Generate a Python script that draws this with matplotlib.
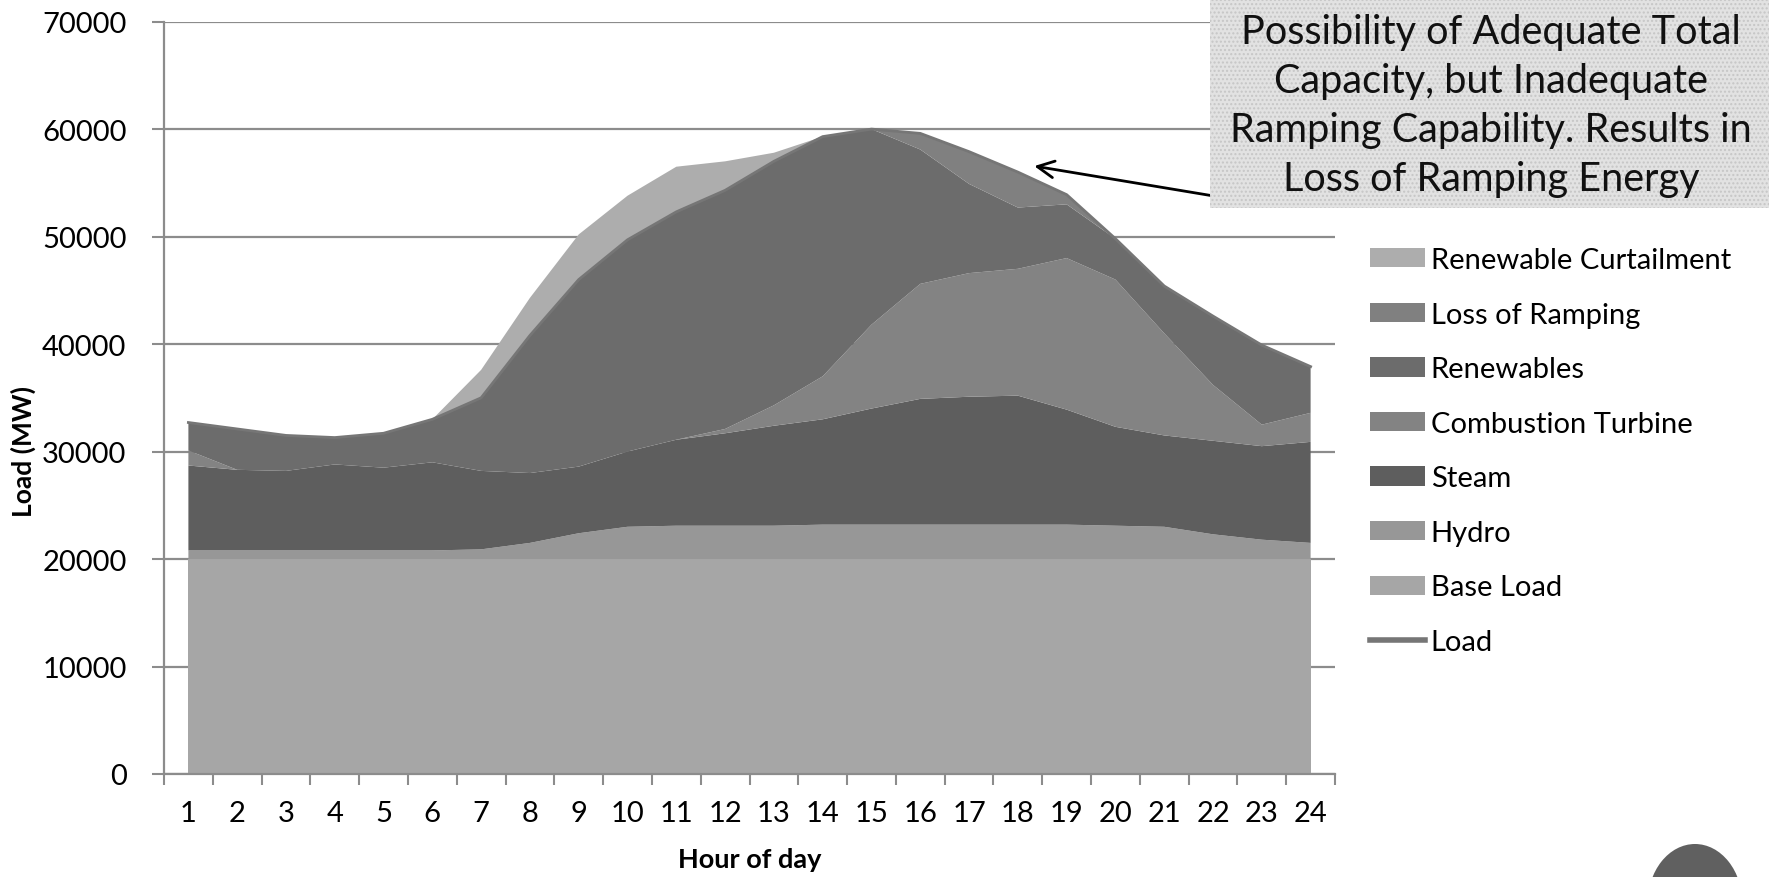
import numpy as np
import matplotlib
matplotlib.use("Agg")
import matplotlib.pyplot as plt
from matplotlib.patches import Patch, Rectangle, Ellipse
from matplotlib.lines import Line2D

plt.rcParams['font.family'] = ['Lato', 'DejaVu Sans']

hours = list(range(1, 25))
base_load = [20000] * 24
hydro = [800, 800, 800, 800, 800, 800, 900, 1500, 2400, 3000, 3100, 3100,
         3100, 3200, 3200, 3200, 3200, 3200, 3200, 3100, 3000, 2300, 1800, 1500]
steam = [7900, 7500, 7400, 8000, 7700, 8200, 7300, 6500, 6200, 7000, 8000, 8600,
         9300, 9800, 10800, 11700, 11900, 12000, 10700, 9200, 8500, 8700, 8700, 9400]
combustion_turbine = [1400, 0, 0, 0, 0, 0, 0, 0, 0, 0, 0, 400,
                      1900, 4000, 7800, 10700, 11500, 11800, 14100, 13700, 9500, 5200, 2000, 2700]
renewables = [2600, 3800, 3300, 2500, 3200, 4000, 6800, 12800, 17400, 19700, 21200, 22200,
              22700, 22300, 18200, 12500, 8300, 5700, 5000, 3800, 4400, 6400, 7400, 4300]
loss_of_ramping = [0, 0, 0, 0, 0, 0, 0, 0, 0, 0, 0, 0,
                   0, 0, 0, 1500, 3000, 3300, 900, 0, 0, 0, 0, 0]
renewable_curtailment = [0, 0, 0, 0, 0, 0, 2600, 3500, 4200, 4100, 4200, 2700,
                         800, 0, 0, 0, 0, 0, 0, 0, 0, 0, 0, 0]
load = [32700, 32100, 31500, 31300, 31700, 33000, 35000, 40800, 46000, 49700, 52300, 54300,
        57000, 59300, 60000, 59600, 57900, 56000, 53900, 49800, 45400, 42600, 39900, 37900]

series_names = ["Base Load", "Hydro", "Steam", "Combustion Turbine", "Renewables",
                "Loss of Ramping", "Renewable Curtailment"]
colors = ['#a6a6a6', '#979797', '#5e5e5e', '#838383', '#6c6c6c', '#808080', '#adadad']
load_color = '#767676'
grid_color = '#8c8c8c'

W, H = 1769, 878
fig = plt.figure(figsize=(W / 100, H / 100), dpi=100)
ax = fig.add_axes([164 / W, 1 - 775 / H, (1335 - 164) / W, (775 - 22.6) / H])

ax.stackplot(hours, base_load, hydro, steam, combustion_turbine, renewables,
             loss_of_ramping, renewable_curtailment, colors=colors, linewidth=0,
             labels=series_names)
ax.plot(hours, load, color=load_color, lw=2)

ax.set_xlim(0.5, 24.5)
ax.set_ylim(0, 70000)
ax.set_yticks(range(0, 70001, 10000))
ax.set_yticklabels([str(v) for v in range(0, 70001, 10000)])
ax.set_xticks(hours)
ax.set_xticklabels([str(h) for h in hours])
ax.set_xticks(np.arange(0.5, 25, 1.0), minor=True)

ax.set_axisbelow(True)
ax.yaxis.grid(True, color=grid_color, lw=1.6)
for s in ['top', 'right']:
    ax.spines[s].set_visible(False)
for s in ['left', 'bottom']:
    ax.spines[s].set_color(grid_color)
    ax.spines[s].set_linewidth(1.6)
    ax.spines[s].set_zorder(5)

ax.tick_params(axis='y', direction='out', length=9, width=1.5, color=grid_color,
               labelsize=21, pad=18)
ax.tick_params(axis='x', which='major', length=0, labelsize=21, pad=19)
ax.tick_params(axis='x', which='minor', direction='out', length=8, width=1.5, color=grid_color)

ax.set_xlabel("Hour of day", fontsize=19.5, fontweight='bold', labelpad=15)
ax.set_ylabel("Load (MW)", fontsize=19, fontweight='bold')
ax.yaxis.set_label_coords((36 - 164) / 1171, (775 - 452) / 752.4)

# legend
handles = [Patch(facecolor=colors[6]), Patch(facecolor=colors[5]), Patch(facecolor=colors[4]),
           Patch(facecolor=colors[3]), Patch(facecolor=colors[2]), Patch(facecolor=colors[1]),
           Patch(facecolor=colors[0]), Line2D([], [], color=load_color, lw=4)]
labels = ["Renewable Curtailment", "Loss of Ramping", "Renewables", "Combustion Turbine",
          "Steam", "Hydro", "Base Load", "Load"]
fig.legend(handles, labels, loc='upper left', bbox_to_anchor=(1370 / W, 1 - 248 / H),
           frameon=False, fontsize=21, handlelength=1.9, handleheight=0.65,
           handletextpad=0.18, labelspacing=0.98, borderpad=0, borderaxespad=0)

# annotation box
fig.patches.append(Rectangle((1210 / W, 1 - 209 / H), (W - 1210) / W, 209 / H,
                             transform=fig.transFigure, facecolor='#e2e2e2',
                             edgecolor='#c6c6c6', hatch='....', lw=0, zorder=0))
fig.text(1491 / W, 1 - 106 / H,
         "Possibility of Adequate Total\nCapacity, but Inadequate\nRamping Capability. Results in\nLoss of Ramping Energy",
         ha='center', va='center', fontsize=28.5, linespacing=1.4, color='#111111')

ax.annotate('', xy=(18.28, 56600), xytext=(22.18, 53650),
            arrowprops=dict(arrowstyle='->', color='black', lw=2, mutation_scale=30),
            annotation_clip=False, zorder=10)

# partial logo blob bottom-right
fig.patches.append(Ellipse((1695 / W, 1 - 905 / H), 95 / W, 120 / H,
                           transform=fig.transFigure, facecolor='#606060', edgecolor='none'))

fig.savefig("out.png", dpi=100)
